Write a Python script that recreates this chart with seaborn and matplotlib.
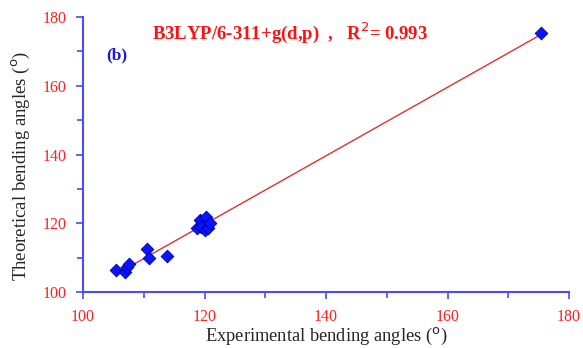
import numpy as np
import pandas as pd
import matplotlib.pyplot as plt
import seaborn as sns
from matplotlib.ticker import MultipleLocator

sns.set_style("white")
plt.rcParams['font.family'] = ['Liberation Serif', 'DejaVu Serif']

# experimental vs theoretical bending angles (deg)
experimental = [105.4, 106.9, 107.2, 107.6, 110.5, 110.9, 113.9,
                118.7, 119.3, 119.5, 120.1, 120.3, 120.6, 120.9, 175.4]
theoretical = [106.4, 105.9, 107.4, 108.1, 112.4, 109.8, 110.5,
               118.5, 120.9, 119.0, 118.0, 121.9, 118.5, 120.0, 175.3]
r2_text = "B3LYP/6-311+g(d,p)  ,   R$^2$= 0.993"

df = pd.DataFrame({'exp': experimental, 'theo': theoretical})

fig = plt.figure(figsize=(5.83, 3.48), dpi=100)
ax = fig.add_axes([0.1424, 0.161, 0.8336, 0.79])

sns.regplot(data=df, x='exp', y='theo', ax=ax, scatter=False, ci=None,
            line_kws={'color': '#e03030', 'lw': 1})
sns.scatterplot(data=df, x='exp', y='theo', ax=ax, marker='D', s=42,
                color='#0a14ff', edgecolor='#0000a0', linewidth=0.6, zorder=3)

ax.set_xlim(100, 180)
ax.set_ylim(100, 180)
ax.xaxis.set_major_locator(MultipleLocator(20))
ax.xaxis.set_minor_locator(MultipleLocator(10))
ax.yaxis.set_major_locator(MultipleLocator(20))
ax.yaxis.set_minor_locator(MultipleLocator(10))

for side in ['top', 'right']:
    ax.spines[side].set_visible(False)
for side in ['left', 'bottom']:
    ax.spines[side].set_color('#4a4aff')
    ax.spines[side].set_linewidth(1.5)

ax.tick_params(which='both', direction='out', color='#4a4aff', width=1.2,
               labelcolor='#ff2020', labelsize=11.5, left=True, bottom=True)
ax.tick_params(which='major', length=5, pad=7)
ax.tick_params(which='minor', length=4)

ax.set_xlabel("Experimental bending angles ($^{\\rm o}$)", fontsize=13.3, labelpad=1)
ax.set_ylabel("Theoretical bending angles ($^{\\rm o}$)", fontsize=13.5)
ax.yaxis.set_label_coords(-0.105, 0.46)

ax.text(0.426, 0.942, r2_text, transform=ax.transAxes, color='#ff1010',
        fontsize=13.5, fontweight='bold', ha='center', va='center')
ax.text(0.07, 0.86, "(b)", transform=ax.transAxes, color='#1a1ad0',
        fontsize=12.5, fontweight='bold', ha='center', va='center')

fig.savefig("out.png", dpi=100)
